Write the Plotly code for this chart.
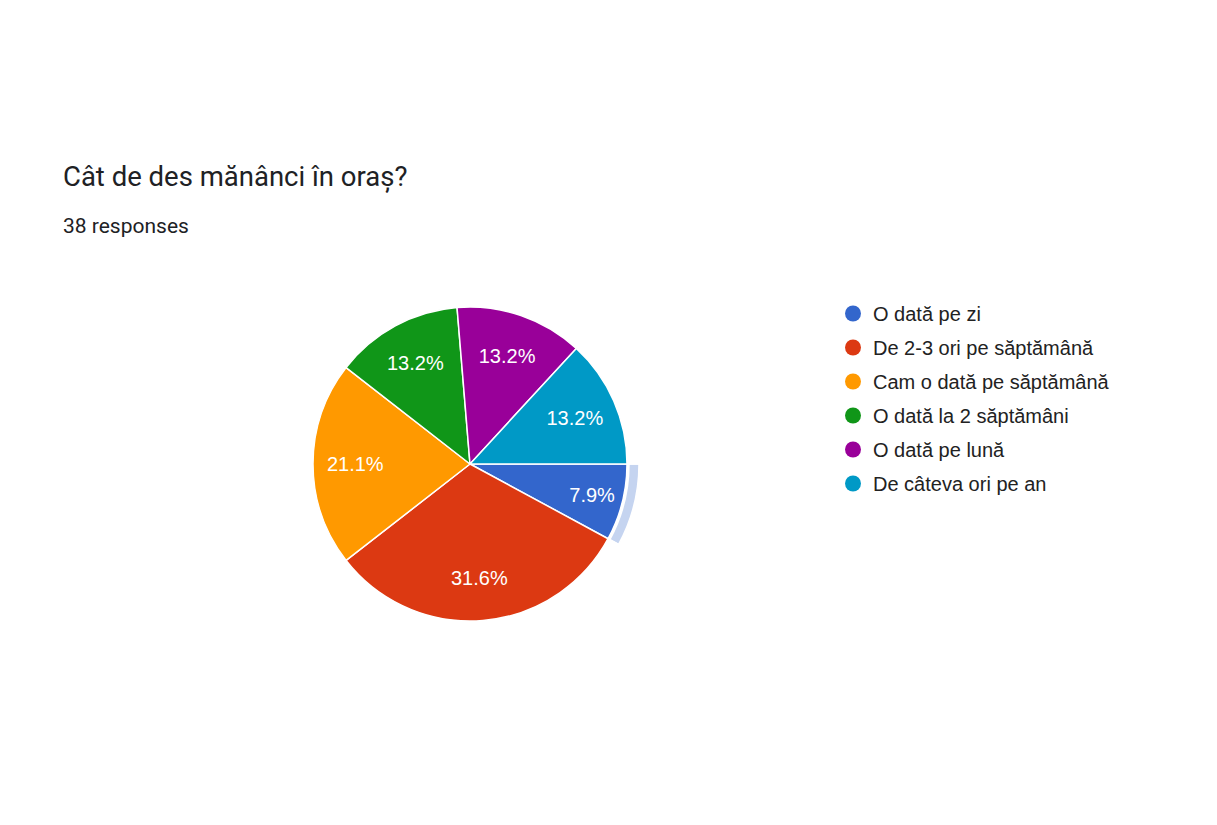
import plotly.graph_objects as go

W, H = 1217, 825

categories = ["O dată pe zi", "De 2-3 ori pe săptămână", "Cam o dată pe săptămână",
              "O dată la 2 săptămâni", "O dată pe lună", "De câteva ori pe an"]
counts = [3, 12, 8, 5, 5, 5]
colors = ["#3366cc", "#dc3912", "#ff9900", "#109618", "#990099", "#0099c6"]
title_text = "Cât de des mănânci în oraș?"
subtitle_text = "38 responses"

cx, cy, r = 470, 464, 157

def dom(radius):
    return dict(x=[(cx - radius) / W, (cx + radius) / W],
                y=[1 - (cy + radius) / H, 1 - (cy - radius) / H])

fig = go.Figure()

# highlight ring on first slice
ring_r = 169
fig.add_trace(go.Pie(
    values=counts, labels=categories, sort=False, direction="clockwise", rotation=90,
    hole=159 / ring_r, domain=dom(ring_r), showlegend=False, textinfo="none",
    hoverinfo="skip",
    marker=dict(colors=["#c5d4f0"] + ["rgba(0,0,0,0)"] * 5,
                line=dict(color="white", width=1.5)),
))

fig.add_trace(go.Pie(
    values=counts, labels=categories, sort=False, direction="clockwise", rotation=90,
    domain=dom(r), showlegend=False, textinfo="none",
    marker=dict(colors=colors, line=dict(color="white", width=1.5)),
))

# labels placed in an invisible ring so they sit at ~0.7 radius like the reference
fig.add_trace(go.Pie(
    values=counts, labels=categories, sort=False, direction="clockwise", rotation=90,
    domain=dom(r), showlegend=False, hole=0.46, hoverinfo="skip",
    texttemplate="%{percent:.1%}", textposition="inside",
    insidetextorientation="horizontal",
    textfont=dict(family="Arial", size=20, color="white"),
    marker=dict(colors=["rgba(0,0,0,0)"] * 6, line=dict(width=0)),
))

for i, (cat, col) in enumerate(zip(categories, colors)):
    fig.add_trace(go.Scatter(
        x=[None], y=[None], mode="markers", name=cat, legendgroup=f"g{i}",
        marker=dict(color=col, size=18, symbol="circle"),
    ))

fig.update_layout(
    width=W, height=H, autosize=False,
    margin=dict(l=0, r=0, t=0, b=0),
    paper_bgcolor="white", plot_bgcolor="white",
    xaxis=dict(visible=False), yaxis=dict(visible=False),
    legend=dict(x=833 / W, y=1 - 294 / H, xanchor="left", yanchor="top",
                font=dict(family="Arial", size=20, color="#222222"),
                traceorder="grouped", tracegroupgap=5, itemsizing="trace"),
    annotations=[
        dict(text=title_text, x=61 / W, y=1 - 176 / H, xref="paper", yref="paper",
             xanchor="left", yanchor="middle", showarrow=False,
             font=dict(family="Roboto", size=27.5, color="#202124")),
        dict(text=subtitle_text, x=61 / W, y=1 - 226 / H, xref="paper", yref="paper",
             xanchor="left", yanchor="middle", showarrow=False,
             font=dict(family="Roboto", size=21, color="#202124")),
    ],
)

fig.write_html("out.html")
